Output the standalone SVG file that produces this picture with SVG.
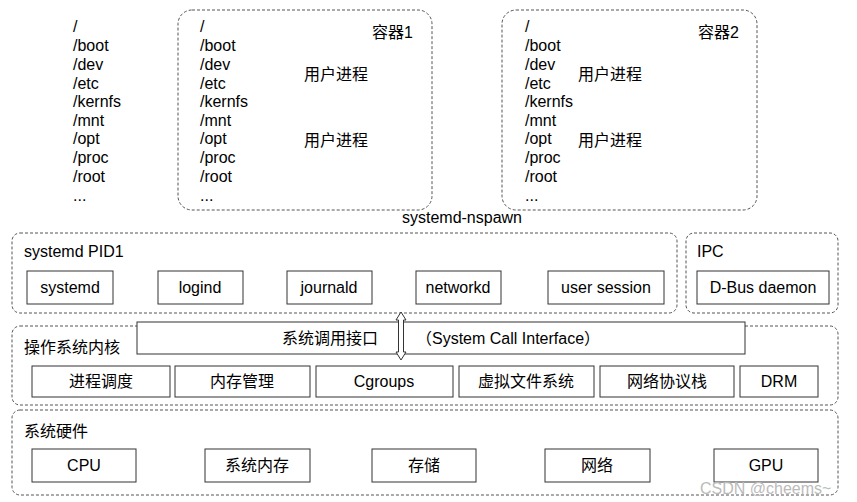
<svg xmlns="http://www.w3.org/2000/svg" width="857" height="502" viewBox="0 0 857 502">
<style>
text{font-family:"Liberation Sans","Noto Sans CJK SC",sans-serif;font-size:16px;fill:#000}
.c{text-anchor:middle}
.d{fill:none;stroke:#555;stroke-width:1;stroke-dasharray:3,2}
.b{fill:#fff;stroke:#333;stroke-width:1}
</style>
<rect width="857" height="502" fill="#fff"/>
<g id="rootfs">
<text x="73" y="32">/</text><text x="73" y="51">/boot</text><text x="73" y="70">/dev</text><text x="73" y="89">/etc</text><text x="73" y="107">/kernfs</text><text x="73" y="126">/mnt</text><text x="73" y="144">/opt</text><text x="73" y="163">/proc</text><text x="73" y="182">/root</text><text x="73" y="201">...</text>
</g>
<g id="container1">
<rect class="d" x="178" y="10" width="254" height="200" rx="14"/>
<text x="200" y="32">/</text><text x="200" y="51">/boot</text><text x="200" y="70">/dev</text><text x="200" y="89">/etc</text><text x="200" y="107">/kernfs</text><text x="200" y="126">/mnt</text><text x="200" y="144">/opt</text><text x="200" y="163">/proc</text><text x="200" y="182">/root</text><text x="200" y="201">...</text>
<text x="372" y="38">容器1</text><text x="304" y="80">用户进程</text><text x="304" y="146">用户进程</text>
</g>
<g id="container2">
<rect class="d" x="502" y="10" width="255" height="200" rx="14"/>
<text x="525" y="32">/</text><text x="525" y="51">/boot</text><text x="525" y="70">/dev</text><text x="525" y="89">/etc</text><text x="525" y="107">/kernfs</text><text x="525" y="126">/mnt</text><text x="525" y="144">/opt</text><text x="525" y="163">/proc</text><text x="525" y="182">/root</text><text x="525" y="201">...</text>
<text x="698" y="38">容器2</text><text x="578" y="80">用户进程</text><text x="578" y="146">用户进程</text>
</g>
<text class="c" x="462" y="223">systemd-nspawn</text>
<g id="pid1">
<rect class="d" x="12" y="233" width="665" height="80" rx="8"/>
<text x="24" y="257">systemd PID1</text>
<rect class="b" x="27" y="271" width="86" height="33"/><text class="c" x="70" y="293">systemd</text>
<rect class="b" x="158" y="271" width="85" height="33"/><text class="c" x="200" y="293">logind</text>
<rect class="b" x="287" y="271" width="85" height="33"/><text class="c" x="329" y="293">journald</text>
<rect class="b" x="416" y="271" width="85" height="33"/><text class="c" x="458" y="293">networkd</text>
<rect class="b" x="548" y="271" width="116" height="33"/><text class="c" x="606" y="293">user session</text>
</g>
<g id="ipc">
<rect class="d" x="686" y="233" width="152" height="80" rx="8"/>
<text x="697" y="257">IPC</text>
<rect class="b" x="697" y="271" width="132" height="33"/><text class="c" x="763" y="293">D-Bus daemon</text>
</g>
<g id="kernel">
<rect class="d" x="12" y="326" width="826" height="79" rx="8"/>
<text x="24" y="353">操作系统内核</text>
<rect class="b" x="32" y="366" width="138" height="31"/><text class="c" x="101" y="387">进程调度</text>
<rect class="b" x="175" y="366" width="135" height="31"/><text class="c" x="242" y="387">内存管理</text>
<rect class="b" x="316" y="366" width="137" height="31"/><text class="c" x="384" y="387">Cgroups</text>
<rect class="b" x="459" y="366" width="135" height="31"/><text class="c" x="526" y="387">虚拟文件系统</text>
<rect class="b" x="600" y="366" width="134" height="31"/><text class="c" x="667" y="387">网络协议栈</text>
<rect class="b" x="740" y="366" width="78" height="31"/><text class="c" x="779" y="387">DRM</text>
</g>
<g id="syscall">
<rect class="b" x="137" y="322" width="608" height="32"/>
<text x="282" y="344">系统调用接口</text><text x="416" y="344">（System Call Interface）</text>
</g>
<g id="connectors">
<path d="M401 312 L406 320 L403.5 320 L403.5 352 L406 352 L401 360 L396 352 L398.5 352 L398.5 320 L396 320 Z" fill="#fff" stroke="#333"/>
</g>
<g id="hardware">
<rect class="d" x="12" y="410" width="826" height="85" rx="8"/>
<text x="24" y="437">系统硬件</text>
<rect class="b" x="32" y="449" width="104" height="33"/><text class="c" x="84" y="471">CPU</text>
<rect class="b" x="205" y="449" width="105" height="33"/><text class="c" x="257" y="471">系统内存</text>
<rect class="b" x="372" y="449" width="104" height="33"/><text class="c" x="424" y="471">存储</text>
<rect class="b" x="545" y="449" width="105" height="33"/><text class="c" x="597" y="471">网络</text>
<rect class="b" x="714" y="449" width="104" height="33"/><text class="c" x="766" y="471">GPU</text>
</g>
<text x="700" y="494" style="fill:#bbb;font-size:16px">CSDN @cheems~</text>
</svg>
